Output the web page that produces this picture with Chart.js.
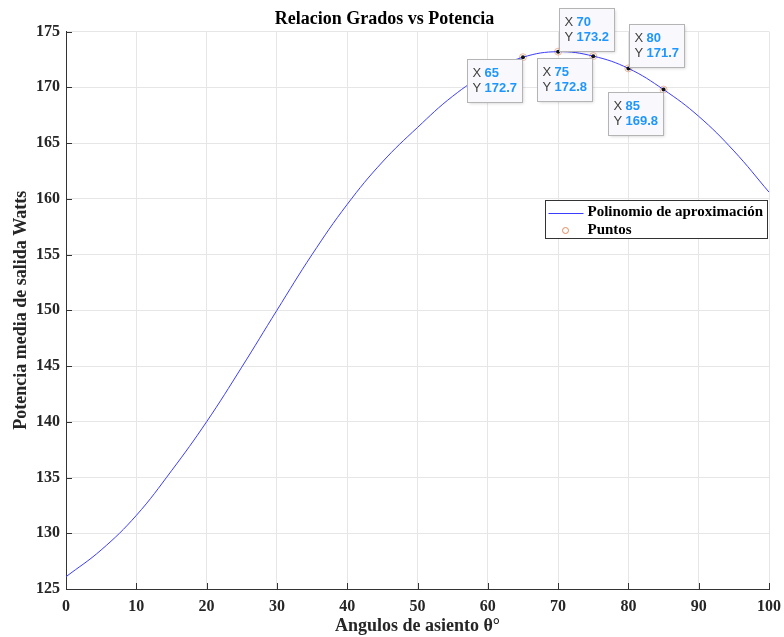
<!DOCTYPE html>
<html>
<head>
<meta charset="utf-8">
<script src="https://cdn.jsdelivr.net/npm/chart.js@4"></script>
<style>
  html, body { margin: 0; padding: 0; background: #fff; }
  #wrap { width: 784px; height: 637px; }
</style>
</head>
<body>
<div id="wrap"><canvas id="grafico"></canvas></div>
<script>
// datos
const angulos = [0, 5, 10, 15, 20, 25, 30, 35, 40, 45, 50, 55, 60, 65, 70, 75, 80, 85, 90, 95, 100]
const potencia = [126.1, 128.5, 131.6, 135.6, 140.0, 144.9, 150.0, 155.0, 159.5, 163.3, 166.4, 169.2, 171.3, 172.7, 173.2, 172.8, 171.7, 169.8, 167.4, 164.3, 160.6]

const puntos_x = [65, 70, 75, 80, 85]
const puntos_y = [172.7, 173.2, 172.8, 171.7, 169.8]
// lado del recuadro de cada datatip: 'bl' abajo-izq, 'tr' arriba-der
const lado_tip = ['bl', 'tr', 'bl', 'tr', 'bl']

const x_min = 0, x_max = 100, x_paso = 10
const y_min = 125, y_max = 175, y_paso = 5

const titulo = 'Relacion Grados vs Potencia'
const titulo_x = 'Angulos de asiento θ°'
const titulo_y = 'Potencia media de salida Watts'
const nombres = ['Polinomio de aproximación', 'Puntos']

const azul = '#3c3cff'
const naranja = '#e48a60'
const serif = '"Liberation Serif", "Times New Roman", serif'
const sans = '"Liberation Sans", Arial, sans-serif'

function pares(xs, ys) {
    let out = []
    for (let i = 0; i < xs.length; i++) out.push({x: xs[i], y: ys[i]})
    return out
}

const extras = {
    id: 'extras',
    afterDraw(chart) {
        const c = chart.ctx
        const a = chart.chartArea
        const sx = chart.scales.x
        const sy = chart.scales.y

        // ticks hacia adentro como en matlab
        c.save()
        c.strokeStyle = '#333'
        c.lineWidth = 1
        c.beginPath()
        for (let v = x_min; v <= x_max; v += x_paso) {
            let px = Math.round(sx.getPixelForValue(v)) + 0.5
            c.moveTo(px, a.bottom)
            c.lineTo(px, a.bottom - 6)
        }
        for (let v = y_min; v <= y_max; v += y_paso) {
            let py = Math.round(sy.getPixelForValue(v)) + 0.5
            c.moveTo(a.left, py)
            c.lineTo(a.left + 6, py)
        }
        c.stroke()

        // puntos negros de los datatips y recuadros
        const meta = chart.getDatasetMeta(1)
        meta.data.forEach((p, i) => {
            c.fillStyle = '#111'
            c.beginPath()
            c.arc(p.x, p.y, 2, 0, Math.PI * 2)
            c.fill()

            const w = 55, h = 43
            let bx, by
            if (lado_tip[i] == 'bl') {
                bx = p.x - 1 - w
                by = p.y + 2
            } else {
                bx = p.x + 1
                by = p.y - 1 - h
            }
            bx = Math.round(bx) + 0.5
            by = Math.round(by) + 0.5
            c.shadowColor = 'rgba(0,0,0,0.18)'
            c.shadowBlur = 3
            c.shadowOffsetX = 1
            c.shadowOffsetY = 1
            c.fillStyle = '#f9f9fd'
            c.fillRect(bx, by, w, h)
            c.shadowColor = 'transparent'
            c.strokeStyle = '#b4b4b4'
            c.strokeRect(bx, by, w, h)

            c.textBaseline = 'middle'
            c.textAlign = 'left'
            c.font = '13px ' + sans
            c.fillStyle = '#404040'
            c.fillText('X', bx + 5, by + 14)
            c.fillText('Y', bx + 5, by + 29)
            c.font = 'bold 13px ' + sans
            c.fillStyle = '#1f96ff'
            c.fillText(String(puntos_x[i]), bx + 17, by + 14)
            c.fillText(puntos_y[i].toFixed(1), bx + 17, by + 29)
        })

        // leyenda dentro del area
        const lw = 222, lh = 38
        const lx = Math.round(a.right - 2 - lw) + 0.5
        const ly = Math.round(sy.getPixelForValue(y_max) + 168) + 0.5
        c.fillStyle = '#fff'
        c.fillRect(lx, ly, lw, lh)
        c.strokeStyle = '#333'
        c.strokeRect(lx, ly, lw, lh)
        c.strokeStyle = azul
        c.beginPath()
        c.moveTo(lx + 3, ly + 13)
        c.lineTo(lx + 38, ly + 13)
        c.stroke()
        c.strokeStyle = naranja
        c.beginPath()
        c.arc(lx + 20, ly + 30, 3, 0, Math.PI * 2)
        c.stroke()
        c.fillStyle = '#000'
        c.font = 'bold 15px ' + serif
        c.textBaseline = 'middle'
        c.fillText(nombres[0], lx + 42, ly + 12)
        c.fillText(nombres[1], lx + 42, ly + 30)
        c.restore()
    }
}

const ctx = document.getElementById('grafico')

let grafico = new Chart(ctx, {
    type: 'line',
    data: {
        datasets: [{
            label: nombres[0],
            data: pares(angulos, potencia),
            borderColor: azul,
            borderWidth: 1,
            pointRadius: 0,
            tension: 0.4,
            fill: false,
        },
        {
            label: nombres[1],
            data: pares(puntos_x, puntos_y),
            showLine: false,
            pointRadius: 3.5,
            pointBorderWidth: 1,
            pointBorderColor: 'rgba(228,138,96,0.6)',
            pointBackgroundColor: 'rgba(255,255,255,0)',
        }]
    },
    options: {
        responsive: true,
        maintainAspectRatio: false,
        animation: false,
        events: [],
        layout: { padding: { left: 0, right: 15, top: 0, bottom: 0 } },
        plugins: {
            legend: { display: false },
            tooltip: { enabled: false },
            title: {
                display: true,
                text: titulo,
                color: '#000',
                font: { family: serif, size: 18, weight: 'bold' },
                padding: { top: 9, bottom: 1 },
            }
        },
        scales: {
            x: {
                type: 'linear',
                min: x_min,
                max: x_max,
                afterFit(s) {
                    s.height = 48
                    s.paddingLeft = 0
                    s.paddingRight = 0
                },
                ticks: {
                    stepSize: x_paso,
                    color: '#262626',
                    padding: 8,
                    font: { family: serif, size: 16, weight: 'bold' },
                },
                grid: { color: '#e6e6e6', drawTicks: false },
                border: { color: '#333' },
                title: {
                    display: true,
                    text: titulo_x,
                    color: '#262626',
                    font: { family: serif, size: 18, weight: 'bold' },
                    padding: { top: 0, bottom: 0 },
                }
            },
            y: {
                min: y_min,
                max: y_max,
                afterFit(s) { s.width = 66 },
                ticks: {
                    stepSize: y_paso,
                    color: '#262626',
                    padding: 6,
                    font: { family: serif, size: 16, weight: 'bold' },
                },
                grid: { color: '#e6e6e6', drawTicks: false },
                border: { color: '#333' },
                title: {
                    display: true,
                    text: titulo_y,
                    color: '#262626',
                    font: { family: serif, size: 18, weight: 'bold' },
                    padding: { top: 11, bottom: 2 },
                }
            }
        }
    },
    plugins: [extras]
});
</script>
</body>
</html>
